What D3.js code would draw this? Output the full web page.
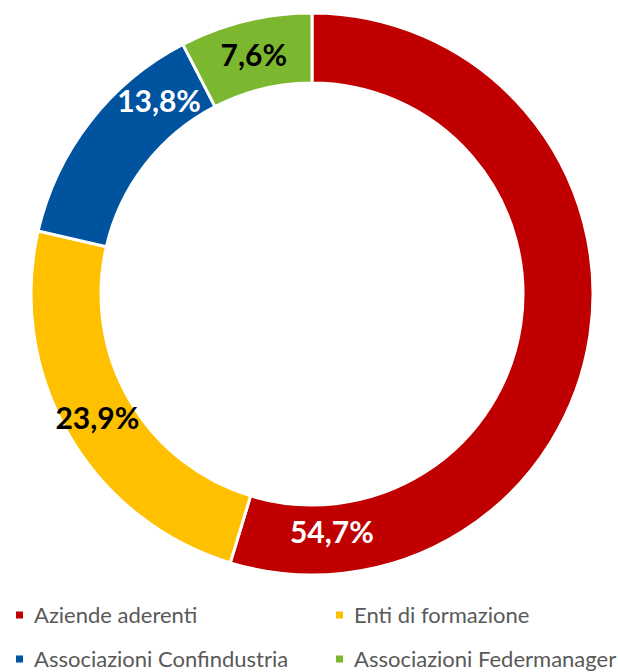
<!DOCTYPE html>
<html>
<head>
<meta charset="utf-8">
<script src="https://cdn.jsdelivr.net/npm/d3@7"></script>
<style>
  body { margin: 0; background: #fff; }
  svg { display: block; }
</style>
</head>
<body>
<div id="chart"></div>
<script>
// data
const categories = ['Aziende aderenti', 'Enti di formazione', 'Associazioni Confindustria', 'Associazioni Federmanager'];
const values = [54.7, 23.9, 13.8, 7.6];
const labels = ['54,7%', '23,9%', '13,8%', '7,6%'];

const WIDTH = 618;
const HEIGHT = 672;
const CENTER = { x: 312, y: 294 };
const OUTER_R = 281;
const INNER_R = 211;
const COLORS = ['#C00000', '#FFC000', '#00539F', '#7CB82F'];
const LABEL_COLORS = ['#ffffff', '#000000', '#ffffff', '#000000'];
// labels that were dragged away from the slice middle (angle shift in radians, radius pull in px)
const LABEL_SHIFT = [1.34, 0, 0.24, 0];
const LABEL_PULL = [-7, 2, 0, 0];

const svg = d3.select('#chart')
  .append('svg')
  .attr('width', WIDTH)
  .attr('height', HEIGHT);

const color = d3.scaleOrdinal().domain(categories).range(COLORS);

const pie = d3.pie()
  .value(d => d.value)
  .sort(null);

const data = categories.map((c, i) => ({ name: c, value: values[i], label: labels[i], i }));
const arcs = pie(data);

const arc = d3.arc()
  .innerRadius(INNER_R)
  .outerRadius(OUTER_R);

const g = svg.append('g')
  .attr('transform', `translate(${CENTER.x},${CENTER.y})`);

g.selectAll('path')
  .data(arcs)
  .join('path')
  .attr('d', arc)
  .attr('fill', d => color(d.data.name))
  .attr('stroke', '#fff')
  .attr('stroke-width', 3);

g.selectAll('text.pct')
  .data(arcs)
  .join('text')
  .attr('class', 'pct')
  .attr('transform', d => {
    const i = d.data.i;
    const r = (INNER_R + OUTER_R) / 2 + LABEL_PULL[i];
    const c = d3.arc().innerRadius(r).outerRadius(r)
      .centroid({ startAngle: d.startAngle + LABEL_SHIFT[i], endAngle: d.endAngle + LABEL_SHIFT[i] });
    return `translate(${c[0]},${c[1]})`;
  })
  .attr('text-anchor', 'middle')
  .attr('dy', '0.36em')
  .style('font-family', 'Lato, sans-serif')
  .style('font-weight', 'bold')
  .style('font-size', '30px')
  .attr('fill', d => LABEL_COLORS[d.data.i])
  .text(d => d.data.label);

// legend, two columns
const legend = svg.append('g')
  .attr('class', 'legend');

const item = legend.selectAll('g')
  .data(categories)
  .join('g')
  .attr('transform', (d, i) => `translate(${i % 2 === 0 ? 16 : 336},${i < 2 ? 615 : 659})`);

item.append('rect')
  .attr('x', 0)
  .attr('y', -3.5)
  .attr('width', 7)
  .attr('height', 7)
  .attr('fill', d => color(d));

item.append('text')
  .attr('x', 18)
  .attr('y', 7.5)
  .style('font-family', 'Lato, sans-serif')
  .style('font-size', '22px')
  .attr('fill', '#595959')
  .text(d => d);
</script>
</body>
</html>
